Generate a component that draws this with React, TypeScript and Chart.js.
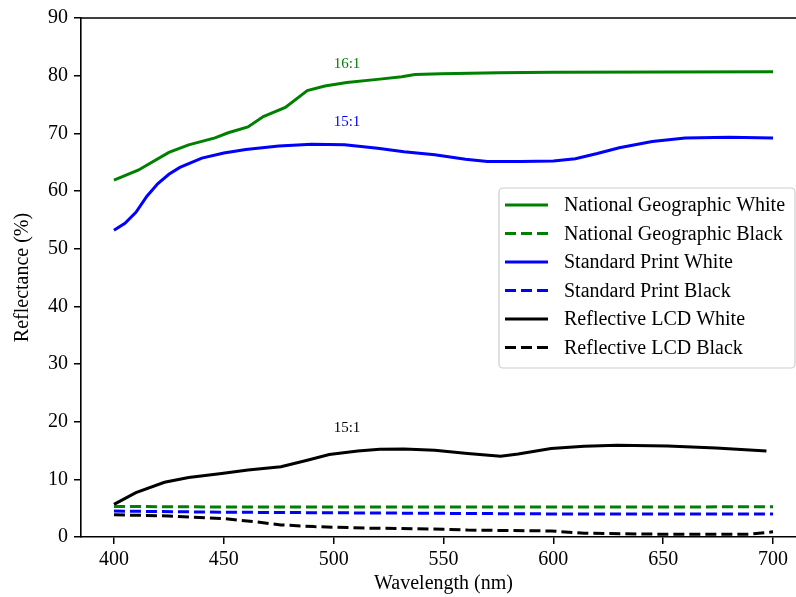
import React, { useEffect, useRef } from 'react';
import { Chart, registerables } from 'chart.js';

Chart.register(...registerables);

const FONT = "'Liberation Serif', 'Times New Roman', serif";

// ---- data ----
const xTicks = [400, 450, 500, 550, 600, 650, 700];
const yTicks = [0, 10, 20, 30, 40, 50, 60, 70, 80, 90];

const ngWhiteNm = [400, 411, 425, 434, 446, 452, 461, 468, 478, 488, 496, 506, 521, 531, 537, 549, 575, 600, 650, 700];
const ngWhite = [61.9, 63.6, 66.7, 68.0, 69.2, 70.1, 71.1, 72.9, 74.5, 77.4, 78.2, 78.8, 79.4, 79.8, 80.2, 80.35, 80.5, 80.6, 80.65, 80.7];

const ngBlackNm = [400, 450, 500, 550, 600, 650, 700];
const ngBlack = [5.3, 5.2, 5.2, 5.2, 5.2, 5.2, 5.25];

const spWhiteNm = [400, 405, 410, 415, 420, 425, 430, 440, 450, 460, 475, 490, 505, 520, 532, 546, 560, 570, 585, 600, 610, 620, 630, 645, 660, 680, 700];
const spWhite = [53.2, 54.4, 56.3, 59.1, 61.3, 62.9, 64.1, 65.7, 66.6, 67.2, 67.8, 68.1, 68.0, 67.4, 66.8, 66.3, 65.5, 65.1, 65.1, 65.2, 65.6, 66.5, 67.5, 68.6, 69.2, 69.3, 69.2];

const spBlackNm = [400, 450, 500, 550, 600, 650, 700];
const spBlack = [4.5, 4.3, 4.2, 4.1, 4.0, 4.0, 4.0];

const lcdWhiteNm = [400, 410, 423, 434, 449, 461, 476, 488, 498, 511, 521, 532, 546, 561, 576, 584, 599, 614, 629, 652, 674, 697];
const lcdWhite = [5.65, 7.7, 9.5, 10.3, 11.0, 11.6, 12.2, 13.3, 14.3, 14.9, 15.2, 15.25, 15.05, 14.5, 14.0, 14.4, 15.35, 15.75, 15.9, 15.8, 15.45, 14.9];

const lcdBlackNm = [400, 425, 450, 464, 476, 491, 514, 550, 561, 599, 614, 652, 689, 700];
const lcdBlack = [3.85, 3.65, 3.2, 2.65, 2.1, 1.8, 1.55, 1.35, 1.2, 1.05, 0.65, 0.47, 0.47, 0.9];

const ratioLabels = ['16:1', '15:1', '15:1'];
const ratioColors = ['#008000', '#0000ff', '#000000'];
const ratioAtNm = 500;
const ratioAtValue = [81.3, 71.3, 18.2];

const pts = (xs: number[], ys: number[]) => xs.map((x, i) => ({ x, y: ys[i] }));

const DASH = [11, 5];

const framePlugin = {
  id: 'frame',
  afterDraw(chart: any) {
    const { ctx, chartArea } = chart;
    ctx.save();
    ctx.strokeStyle = '#000';
    ctx.lineWidth = 1.6;
    ctx.beginPath();
    ctx.moveTo(chartArea.left, chartArea.top);
    ctx.lineTo(chartArea.right, chartArea.top);
    ctx.lineTo(chartArea.right, chartArea.bottom);
    ctx.stroke();
    ctx.restore();
  },
};

const annotationPlugin = {
  id: 'ratios',
  afterDatasetsDraw(chart: any) {
    const { ctx, scales } = chart;
    ctx.save();
    ctx.font = `15px ${FONT}`;
    ctx.textAlign = 'left';
    ctx.textBaseline = 'alphabetic';
    ratioLabels.forEach((t, i) => {
      ctx.fillStyle = ratioColors[i];
      ctx.fillText(t, scales.x.getPixelForValue(ratioAtNm), scales.y.getPixelForValue(ratioAtValue[i]));
    });
    ctx.restore();
  },
};

const legendPlugin = {
  id: 'mplLegend',
  afterDraw(chart: any) {
    const { ctx, chartArea } = chart;
    const w = 296, h = 180;
    const left = chartArea.right - 11 - w;
    const top = chartArea.top + 170;
    ctx.save();
    ctx.beginPath();
    const r = 4;
    ctx.moveTo(left + r, top);
    ctx.lineTo(left + w - r, top);
    ctx.arcTo(left + w, top, left + w, top + r, r);
    ctx.lineTo(left + w, top + h - r);
    ctx.arcTo(left + w, top + h, left + w - r, top + h, r);
    ctx.lineTo(left + r, top + h);
    ctx.arcTo(left, top + h, left, top + h - r, r);
    ctx.lineTo(left, top + r);
    ctx.arcTo(left, top, left + r, top, r);
    ctx.closePath();
    ctx.fillStyle = 'rgba(255,255,255,0.8)';
    ctx.fill();
    ctx.strokeStyle = '#cccccc';
    ctx.lineWidth = 1.2;
    ctx.stroke();
    ctx.font = `20px ${FONT}`;
    ctx.textBaseline = 'middle';
    ctx.textAlign = 'left';
    chart.data.datasets.forEach((ds: any, i: number) => {
      const y = top + 17 + i * 28.5;
      ctx.strokeStyle = ds.borderColor;
      ctx.lineWidth = ds.borderWidth;
      ctx.setLineDash(ds.borderDash || []);
      ctx.beginPath();
      ctx.moveTo(left + 6, y);
      ctx.lineTo(left + 49, y);
      ctx.stroke();
      ctx.setLineDash([]);
      ctx.fillStyle = '#000';
      ctx.fillText(ds.label, left + 65, y + 1);
    });
    ctx.restore();
  },
};

export default function App() {
  const ref = useRef<HTMLCanvasElement>(null);
  useEffect(() => {
    const canvas = ref.current!;
    const mk = (label: string, xs: number[], ys: number[], color: string, dashed: boolean) => ({
      label,
      data: pts(xs, ys),
      borderColor: color,
      backgroundColor: color,
      borderWidth: 3,
      borderDash: dashed ? DASH : [],
      pointRadius: 0,
      tension: 0,
      fill: false,
    });
    const axisCommon = {
      grid: { display: true, drawOnChartArea: false, drawTicks: true, tickLength: 7, color: '#000', lineWidth: 1.5 },
      border: { display: true, color: '#000', width: 1.6 },
    };
    const chart = new Chart(canvas, {
      type: 'line',
      data: {
        datasets: [
          mk('National Geographic White', ngWhiteNm, ngWhite, '#008000', false),
          mk('National Geographic Black', ngBlackNm, ngBlack, '#008000', true),
          mk('Standard Print White', spWhiteNm, spWhite, '#0000ff', false),
          mk('Standard Print Black', spBlackNm, spBlack, '#0000ff', true),
          mk('Reflective LCD White', lcdWhiteNm, lcdWhite, '#000000', false),
          mk('Reflective LCD Black', lcdBlackNm, lcdBlack, '#000000', true),
        ] as any,
      },
      options: {
        responsive: false,
        maintainAspectRatio: false,
        animation: false,
        devicePixelRatio: 1,
        layout: { padding: { top: 17, right: 24, left: 0, bottom: 0 } },
        plugins: { legend: { display: false }, tooltip: { enabled: false } },
        scales: {
          x: {
            type: 'linear',
            min: 385,
            max: 715,
            afterBuildTicks: (s: any) => { s.ticks = xTicks.map((v) => ({ value: v })); },
            afterFit: (s: any) => { s.height = 60; },
            ...axisCommon,
            ticks: { color: '#000', font: { family: FONT, size: 20 }, padding: 4, maxRotation: 0, autoSkip: false },
            title: { display: true, text: 'Wavelength (nm)', color: '#000', font: { family: FONT, size: 20 }, padding: { top: 0, bottom: 1 } },
          },
          y: {
            type: 'linear',
            min: 0,
            max: 90,
            afterBuildTicks: (s: any) => { s.ticks = yTicks.map((v) => ({ value: v })); },
            afterFit: (s: any) => { s.width = 81; },
            ...axisCommon,
            ticks: { color: '#000', font: { family: FONT, size: 20 }, padding: 6, autoSkip: false },
            title: { display: true, text: 'Reflectance (%)', color: '#000', font: { family: FONT, size: 20 }, padding: { top: 11, bottom: 0 } },
          },
        },
      } as any,
      plugins: [framePlugin, annotationPlugin, legendPlugin],
    });
    return () => chart.destroy();
  }, []);
  return (
    <div style={{ position: 'fixed', left: 0, top: 0, width: 796, height: 597, overflow: 'hidden', background: '#fff' }}>
      <canvas ref={ref} width={830} height={597} style={{ display: 'block' }} />
    </div>
  );
}
